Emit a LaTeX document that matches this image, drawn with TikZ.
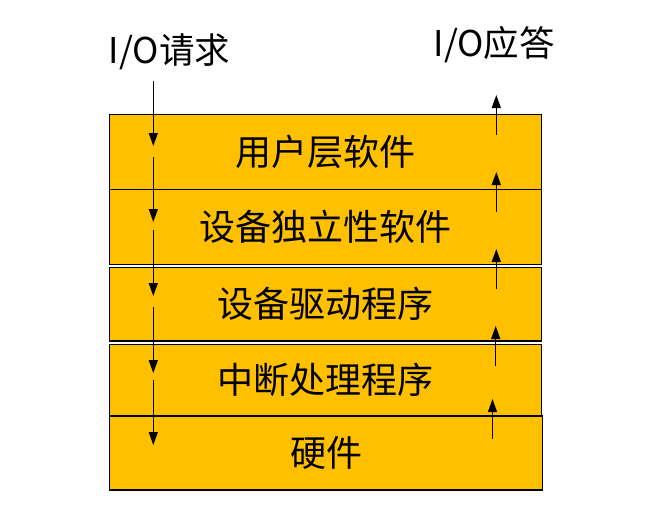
\documentclass[tikz,border=0pt]{standalone}
\usepackage{fontspec}
\setmainfont{Noto Sans CJK SC}
\usetikzlibrary{arrows.meta}
\definecolor{gold}{HTML}{FFC000}
\tikzset{
  layerbox/.style={draw=black, line width=1.5pt, fill=gold, inner sep=0pt,
    font=\fontsize{36}{40}\selectfont, text=black},
  flowarrow/.style={draw=black, line width=1.2pt, -{Triangle[length=13pt,width=9pt]}},
  toplabel/.style={inner sep=0pt, font=\fontsize{35.5}{40}\selectfont, text=black}
}
\begin{document}
\begin{tikzpicture}[x=1pt,y=-1pt]
\useasboundingbox (0,0) rectangle (647,530);
\node[layerbox, minimum width=432pt, minimum height=75pt] (b1) at (325.6,151.8) {用户层软件};
\node[layerbox, minimum width=432pt, minimum height=75pt] (b2) at (325.6,226.8) {设备独立性软件};
\node[layerbox, minimum width=432pt, minimum height=73.7pt] (b3) at (325.6,304.2) {设备驱动程序};
\node[layerbox, minimum width=432pt, minimum height=71.7pt] (b4) at (325.6,380.2) {中断处理程序};
\node[layerbox, minimum width=433pt, minimum height=74pt] (b5) at (326.1,453) {硬件};
\node[toplabel] (req) at (169.5,52) {I/O请求};
\node[toplabel] (ans) at (494.3,45) {I/O应答};
% down arrows
\coordinate (d1s) at (153.3,81);  \coordinate (d1e) at (153.3,146);
\coordinate (d2s) at (153.3,157); \coordinate (d2e) at (153.3,222);
\coordinate (d3s) at (153.3,230); \coordinate (d3e) at (153.3,296);
\coordinate (d4s) at (153.3,307); \coordinate (d4e) at (153.3,373);
\coordinate (d5s) at (153.3,380); \coordinate (d5e) at (153.3,445);
\foreach \i in {1,...,5} {\draw[flowarrow] (d\i s) -- (d\i e);}
% up arrows
\coordinate (u1s) at (496.3,135); \coordinate (u1e) at (496.3,95);
\coordinate (u2s) at (496.3,212); \coordinate (u2e) at (496.3,172);
\coordinate (u3s) at (496.3,289); \coordinate (u3e) at (496.3,249);
\coordinate (u4s) at (495.7,366); \coordinate (u4e) at (495.7,326);
\coordinate (u5s) at (492.5,439); \coordinate (u5e) at (492.5,399);
\foreach \i in {1,...,5} {\draw[flowarrow] (u\i s) -- (u\i e);}
\end{tikzpicture}
\end{document}
